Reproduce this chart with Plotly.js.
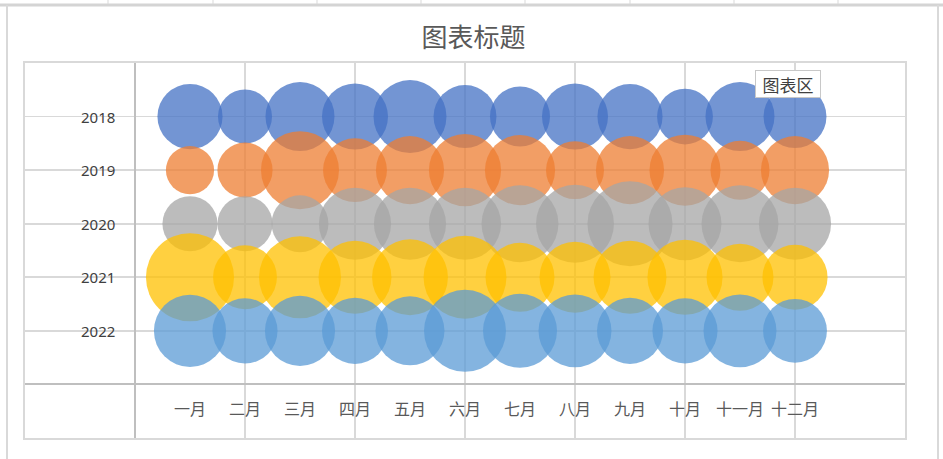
<!DOCTYPE html>
<html><head><meta charset="utf-8">
<script src="https://cdn.plot.ly/plotly-3.0.1.min.js"></script>
<style>html,body{margin:0;padding:0;background:#fff;overflow:hidden}#chart{width:943px;height:459px}</style>
</head><body><div id="chart"></div>
<script>
const months = ['一月','二月','三月','四月','五月','六月','七月','八月','九月','十月','十一月','十二月'];
const years = ['2018','2019','2020','2021','2022'];
const colors = ['#4472C4','#ED7D31','#A5A5A5','#FFC000','#5B9BD5'];
const v2018 = [106, 73, 119, 109, 133, 99, 90, 109, 106, 78, 119, 99];
const v2019 = [58, 76, 152, 102, 116, 130, 123, 84, 116, 126, 87, 116];
const v2020 = [76, 76, 81, 130, 130, 130, 148, 152, 181, 133, 148, 130];
const v2021 = [194, 102, 168, 133, 144, 172, 119, 126, 133, 141, 112, 106];
const v2022 = [130, 106, 123, 109, 119, 168, 137, 133, 109, 106, 133, 102];
const series = [v2018, v2019, v2020, v2021, v2022];

const W = 943, H = 459, L = 25, R = 38, T = 63, B = 21;
const pw = W - L - R, ph = H - T - B;
const px = x => (x - L) / pw;
const py = y => (H - B - y) / ph;

const monthX = months.map((m, i) => i + 1);
const traces = years.map((yr, k) => ({
  type: 'scatter', mode: 'markers', name: yr,
  x: monthX,
  y: months.map(() => years.length - k),
  marker: {size: series[k], sizemode: 'area', sizeref: 0.05, color: colors[k], opacity: 0.75, line: {width: 0}},
  hoverinfo: 'skip', cliponaxis: false, showlegend: false
}));
traces.push({
  type: 'scatter', mode: 'text', x: monthX, y: months.map(() => -0.5), text: months,
  textposition: 'middle center',
  textfont: {family: 'Noto Sans CJK SC', size: 16, color: '#595959'},
  hoverinfo: 'skip', showlegend: false, cliponaxis: false
});

const annotations = years.map((yr, k) => ({
  x: -0.32, y: years.length - k, xref: 'x', yref: 'y', text: yr, showarrow: false,
  xanchor: 'right', yanchor: 'middle',
  font: {family: 'Noto Sans', size: 15, color: '#404040'}
}));
annotations.push({
  x: px(788), y: py(84), xref: 'paper', yref: 'paper', text: '图表区', showarrow: false,
  xanchor: 'center', yanchor: 'middle', width: 58, height: 20,
  font: {family: 'Noto Sans CJK SC', size: 17, color: '#404040'},
  bgcolor: '#ffffff', bordercolor: '#C8C8C8', borderwidth: 1, borderpad: 3
});

const colMarks = [108, 213, 317, 421, 525, 630, 734, 838];
const shapes = [
  {type: 'line', xref: 'paper', yref: 'paper', x0: px(0), x1: px(943), y0: py(5), y1: py(5), line: {color: '#D4D4D4', width: 3}},
  {type: 'line', xref: 'paper', yref: 'paper', x0: px(7), x1: px(7), y0: py(5), y1: py(459), line: {color: '#D9D9D9', width: 2}},
  {type: 'line', xref: 'paper', yref: 'paper', x0: px(938), x1: px(938), y0: py(5), y1: py(459), line: {color: '#D9D9D9', width: 2}}
].concat(colMarks.map(c => ({type: 'line', xref: 'paper', yref: 'paper', x0: px(c), x1: px(c), y0: py(0), y1: py(4), line: {color: '#D9D9D9', width: 1}})));

const axisBase = {
  showticklabels: false, ticks: '', showgrid: true, gridcolor: '#D9D9D9', gridwidth: 1.6,
  zeroline: true, zerolinecolor: '#BFBFBF', zerolinewidth: 2,
  showline: true, mirror: true, linecolor: '#D9D9D9', linewidth: 2, fixedrange: true
};

const layout = {
  width: W, height: H,
  margin: {l: L, r: R, t: T, b: B},
  paper_bgcolor: '#ffffff', plot_bgcolor: '#ffffff',
  title: {text: '图表标题', x: 0.502, xref: 'container', xanchor: 'center', y: 1 - 38 / H, yref: 'container', yanchor: 'middle',
          font: {family: 'Noto Sans CJK SC', size: 26, color: '#595959'}},
  xaxis: Object.assign({}, axisBase, {range: [-2, 14], tick0: 0, dtick: 2}),
  yaxis: Object.assign({}, axisBase, {range: [-1, 6], tick0: 0, dtick: 1}),
  annotations: annotations,
  shapes: shapes,
  showlegend: false
};

Plotly.newPlot('chart', traces, layout, {displayModeBar: false, staticPlot: true});
</script></body></html>
